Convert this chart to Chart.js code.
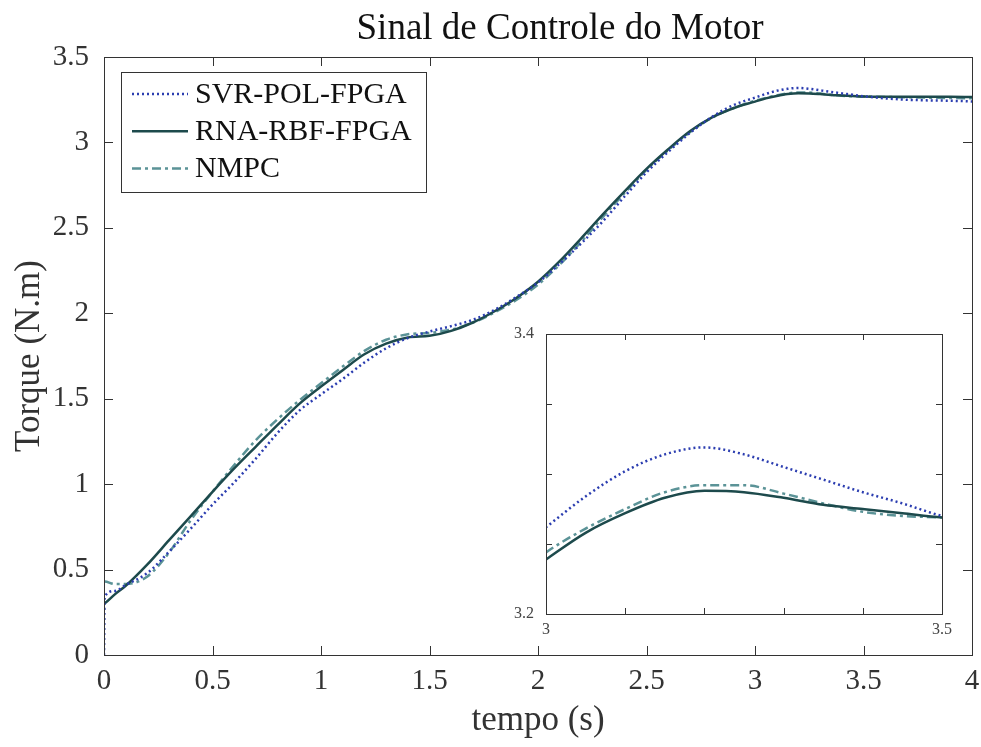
<!DOCTYPE html>
<html>
<head>
<meta charset="utf-8">
<script src="https://cdn.jsdelivr.net/npm/chart.js@4.4.1/dist/chart.umd.min.js"></script>
<style>
  body { margin: 0; background: #fff; }
  #wrap { position: relative; width: 981px; height: 747px; }
  #mainChart { position: absolute; left: 0; top: 0; }
  #insetChart { position: absolute; left: 500px; top: 320px; }
</style>
</head>
<body>
<div id="wrap">
  <canvas id="mainChart" width="981" height="747"></canvas>
  <canvas id="insetChart" width="460" height="330"></canvas>
</div>
<script>
// 1. DATA
const chartTitle = 'Sinal de Controle do Motor';
const xLabel = 'tempo (s)';
const yLabel = 'Torque (N.m)';
const seriesNames = ['SVR-POL-FPGA', 'RNA-RBF-FPGA', 'NMPC'];

const timeS = [0, 0.003, 0.05, 0.1, 0.2, 0.3, 0.4, 0.5, 0.6, 0.7, 0.8, 0.9, 1.0,
  1.1, 1.2, 1.3, 1.4, 1.5, 1.6, 1.7, 1.8, 1.9, 2.0, 2.1, 2.2, 2.3, 2.4, 2.5,
  2.6, 2.7, 2.8, 2.9, 3.0, 3.05, 3.1, 3.15, 3.2, 3.25, 3.3, 3.35, 3.4, 3.45,
  3.5, 3.6, 3.7, 3.8, 3.9, 4.0];

const svrPol = [0, 0.34, 0.375, 0.41, 0.48, 0.605, 0.74, 0.88, 1.01, 1.15, 1.30,
  1.43, 1.525, 1.615, 1.712, 1.795, 1.855, 1.893, 1.925, 1.962, 2.02, 2.095, 2.18,
  2.29, 2.41, 2.54, 2.685, 2.825, 2.945, 3.055, 3.148, 3.218, 3.262, 3.284, 3.302,
  3.314, 3.319, 3.314, 3.305, 3.296, 3.287, 3.279, 3.270, 3.258, 3.25, 3.246,
  3.244, 3.24];

const rnaRbf = [0.30, 0.302, 0.355, 0.405, 0.53, 0.672, 0.813, 0.955, 1.092, 1.22,
  1.347, 1.47, 1.571, 1.667, 1.76, 1.822, 1.858, 1.868, 1.897, 1.946, 2.012,
  2.09, 2.185, 2.305, 2.44, 2.58, 2.715, 2.845, 2.96, 3.065, 3.145, 3.2, 3.239,
  3.258, 3.272, 3.283, 3.288, 3.287, 3.283, 3.278, 3.275, 3.272, 3.269, 3.268,
  3.268, 3.267, 3.267, 3.266];

const nmpc = [0.43, 0.43, 0.415, 0.415, 0.46, 0.60, 0.79, 0.955, 1.112, 1.258,
  1.38, 1.49, 1.59, 1.688, 1.78, 1.845, 1.877, 1.885, 1.905, 1.945, 2.005, 2.078,
  2.168, 2.285, 2.42, 2.565, 2.705, 2.84, 2.955, 3.06, 3.143, 3.2, 3.244, 3.261,
  3.275, 3.287, 3.292, 3.292, 3.286, 3.279, 3.273, 3.270, 3.269, 3.266, 3.264,
  3.262, 3.26, 3.258];

const xTicksMain = [0, 4, 0.5];      // min, max, step
const yTicksMain = [0, 3.5, 0.5];
const xTicksInset = [3, 3.5, 0.1];
const yTicksInset = [3.2, 3.4, 0.05];
const insetXLabels = ['3', '3.5'];
const insetYLabels = ['3.2', '3.4'];

// 2. STYLE
const FONT = '"Liberation Serif", "Times New Roman", serif';
const AXIS_COLOR = '#333';
const styles = [
  { color: '#2b3db0', dash: [2, 3] },
  { color: '#1d4a4c', dash: [] },
  { color: '#5b9397', dash: [9, 4, 3, 4] }
];

function buildDatasets(width) {
  return [svrPol, rnaRbf, nmpc].map((vals, i) => ({
    label: seriesNames[i],
    data: timeS.map((t, k) => ({ x: t, y: vals[k] })),
    borderColor: styles[i].color,
    borderDash: styles[i].dash,
    borderWidth: width,
    pointRadius: 0,
    fill: false,
    cubicInterpolationMode: 'monotone'
  }));
}

const fmt = v => String(parseFloat(v.toFixed(2)));

// no extra room for overhanging end labels: the plot box is fixed
function fixX(h) {
  return s => { s.height = h; s.paddingLeft = 0; s.paddingRight = 0; };
}
function fixY(w) {
  return s => { s.width = w; s.paddingTop = 0; s.paddingBottom = 0; };
}

// box around the axes + ticks pointing inwards (MATLAB look)
const frameTicks = {
  id: 'frameTicks',
  beforeDraw(chart, args, opts) {
    if (!opts.whiteBg) return;
    const a = chart.chartArea, ctx = chart.ctx;
    ctx.save();
    ctx.fillStyle = '#fff';
    ctx.fillRect(a.left, a.top, a.right - a.left, a.bottom - a.top);
    ctx.restore();
  },
  afterDatasetsDraw(chart, args, opts) {
    const { ctx, chartArea: a, scales } = chart;
    const len = opts.len;
    ctx.save();
    ctx.strokeStyle = AXIS_COLOR;
    ctx.lineWidth = 1;
    ctx.beginPath();
    scales.x.ticks.forEach(t => {
      const px = Math.round(scales.x.getPixelForValue(t.value)) + 0.5;
      ctx.moveTo(px, a.bottom); ctx.lineTo(px, a.bottom - len);
      ctx.moveTo(px, a.top); ctx.lineTo(px, a.top + len);
    });
    scales.y.ticks.forEach(t => {
      const py = Math.round(scales.y.getPixelForValue(t.value)) + 0.5;
      ctx.moveTo(a.left, py); ctx.lineTo(a.left + len, py);
      ctx.moveTo(a.right, py); ctx.lineTo(a.right - len, py);
    });
    ctx.stroke();
    ctx.strokeRect(Math.round(a.left) + 0.5, Math.round(a.top) + 0.5,
      Math.round(a.right - a.left), Math.round(a.bottom - a.top));
    ctx.restore();
  }
};

// title + legend box inside the axes
const decor = {
  id: 'decor',
  afterDraw(chart) {
    const ctx = chart.ctx;
    ctx.save();
    ctx.fillStyle = '#111';
    ctx.font = '37px ' + FONT;
    ctx.textAlign = 'center';
    ctx.textBaseline = 'alphabetic';
    ctx.fillText(chartTitle, 560, 39);

    ctx.fillStyle = '#fff';
    ctx.fillRect(121.5, 72.5, 305, 120);
    ctx.strokeStyle = AXIS_COLOR;
    ctx.lineWidth = 1;
    ctx.strokeRect(121.5, 72.5, 305, 120);

    ctx.font = '30px ' + FONT;
    ctx.textAlign = 'left';
    ctx.textBaseline = 'middle';
    chart.data.datasets.forEach((ds, i) => {
      const y = 94 + i * 37.3;
      ctx.strokeStyle = ds.borderColor;
      ctx.lineWidth = ds.borderWidth;
      ctx.setLineDash(ds.borderDash);
      ctx.beginPath();
      ctx.moveTo(132, y); ctx.lineTo(188, y);
      ctx.stroke();
      ctx.setLineDash([]);
      ctx.fillStyle = '#111';
      ctx.fillText(ds.label, 195, y + 1);
    });
    ctx.restore();
  }
};

// 3. MAIN CHART
new Chart(document.getElementById('mainChart'), {
  type: 'line',
  data: { datasets: buildDatasets(2.5) },
  plugins: [frameTicks, decor],
  options: {
    responsive: false,
    animation: false,
    devicePixelRatio: 1,
    layout: { padding: { top: 57, right: 9, left: 0, bottom: 0 } },
    plugins: {
      legend: { display: false },
      tooltip: { enabled: false },
      frameTicks: { len: 9 }
    },
    scales: {
      x: {
        type: 'linear', min: xTicksMain[0], max: xTicksMain[1],
        ticks: { stepSize: xTicksMain[2], color: AXIS_COLOR, padding: 9,
          font: { family: FONT, size: 29 }, maxRotation: 0, callback: fmt },
        grid: { display: false, drawTicks: false },
        border: { display: false },
        title: { display: true, text: xLabel, color: AXIS_COLOR,
          font: { family: FONT, size: 35 }, padding: { top: 0, bottom: 5 } },
        afterFit: fixX(92)
      },
      y: {
        type: 'linear', min: yTicksMain[0], max: yTicksMain[1],
        ticks: { stepSize: yTicksMain[2], color: AXIS_COLOR, padding: 15,
          font: { family: FONT, size: 29 }, callback: fmt },
        grid: { display: false, drawTicks: false },
        border: { display: false },
        title: { display: true, text: yLabel, color: AXIS_COLOR,
          font: { family: FONT, size: 35 }, padding: { top: 9, bottom: 0 } },
        afterFit: fixY(104)
      }
    }
  }
});

// 4. INSET (zoom 3 - 3.5 s)
const near = (v, list) => list.find(l => Math.abs(parseFloat(l) - v) < 1e-6);
new Chart(document.getElementById('insetChart'), {
  type: 'line',
  data: { datasets: buildDatasets(2.5) },
  plugins: [frameTicks],
  options: {
    responsive: false,
    animation: false,
    devicePixelRatio: 1,
    layout: { padding: { top: 14, right: 18, left: 0, bottom: 0 } },
    plugins: {
      legend: { display: false },
      tooltip: { enabled: false },
      frameTicks: { len: 6, whiteBg: true }
    },
    scales: {
      x: {
        type: 'linear', min: xTicksInset[0], max: xTicksInset[1],
        ticks: { stepSize: xTicksInset[2], color: '#444', padding: 6, maxRotation: 0,
          autoSkip: false, font: { family: FONT, size: 16 },
          callback: v => near(v, insetXLabels) || '' },
        grid: { display: false, drawTicks: false },
        border: { display: false },
        afterFit: fixX(36)
      },
      y: {
        type: 'linear', min: yTicksInset[0], max: yTicksInset[1],
        ticks: { stepSize: yTicksInset[2], color: '#444', padding: 12, autoSkip: false,
          font: { family: FONT, size: 16 },
          callback: v => near(v, insetYLabels) || '' },
        grid: { display: false, drawTicks: false },
        border: { display: false },
        afterFit: fixY(46)
      }
    }
  }
});
</script>
</body>
</html>
